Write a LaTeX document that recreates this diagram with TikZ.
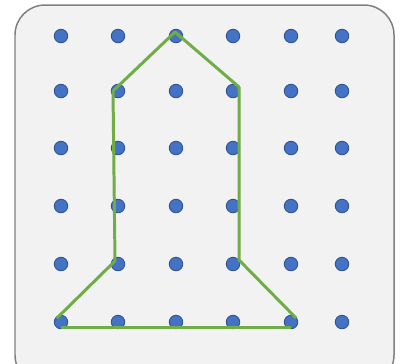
\documentclass[tikz,border=0pt]{standalone}
\usepackage{tikz}
\usetikzlibrary{positioning}
\definecolor{boardgray}{RGB}{242,242,242}
\definecolor{edgegray}{RGB}{128,128,128}
\definecolor{pegblue}{RGB}{68,114,196}
\definecolor{pegedge}{RGB}{47,82,143}
\definecolor{bandgreen}{RGB}{112,173,71}

\tikzset{
  peg/.style={circle, fill=pegblue, draw=pegedge, line width=0.5pt, inner sep=0pt, minimum size=0.27cm},
  band/.style={draw=bandgreen, line width=1.7pt}
}

\begin{document}
\begin{tikzpicture}[x=0.02cm, y=-0.02cm]
  \useasboundingbox (0,0) rectangle (401,363);
  \clip (0,0) rectangle (401,363);
  \draw[fill=boardgray, draw=edgegray, line width=0.85pt, rounded corners=0.6cm] (15,5) rectangle (394,385);
  % pegs
  \foreach \x [count=\i] in {61,118,176,233,291,342} {
    \foreach \y [count=\j] in {36,91,148,206,264,322} {
      \node[peg] (p\i\j) at (\x,\y) {};
    }
  }
  % rubber band
  \coordinate (apex) at (175,32);
  \coordinate (shl) at (113,91);
  \coordinate (shr) at (239,87);
  \coordinate (hipl) at (115,261);
  \coordinate (hipr) at (239,260);
  \coordinate (footl) at (57,318);
  \coordinate (footr) at (296,318);
  \coordinate (basel) at (61,327);
  \coordinate (baser) at (291,327);
  \draw[band, line join=round] (footl) -- (hipl) -- (shl) -- (apex) -- (shr) -- (hipr) -- (footr);
  \draw[band] (basel) -- (baser);
\end{tikzpicture}
\end{document}
